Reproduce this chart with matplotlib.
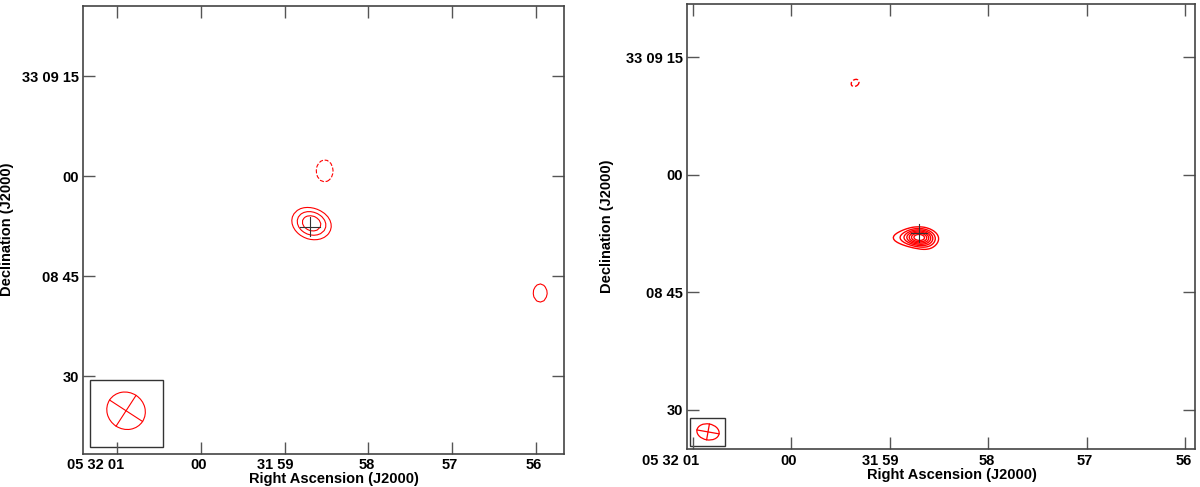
import numpy as np
import matplotlib
matplotlib.use("Agg")
import matplotlib.pyplot as plt
import matplotlib.transforms as mtransforms
from matplotlib.patches import Ellipse, Rectangle

# ---------------------------------------------------
# coordinates: RA in seconds relative to 05 32 00, Dec in arcsec relative to 33 08 00
# ---------------------------------------------------
RA2AS = 15 * np.cos(np.deg2rad(33.15))   # arcsec per second of RA at this dec

ra_ticks = [1, 0, -1, -2, -3, -4]
ra_labels = ["05 32 01", "00", "31 59", "58", "57", "56"]
dec_ticks = [75, 60, 45, 30]
dec_labels = ["33 09 15", "00", "08 45", "30"]

# left map: emission components (ra s, dec ", peak, sigma_a ", sigma_b ", angle deg)
left_ra = [-1.322, -1.478, -4.054]
left_dec = [52.98, 60.82, 42.5]
left_peak = [9.0, -3.5, 3.5]
left_sa = [2.05, 2.29, 1.89]
left_sb = [1.62, 2.97, 2.47]
left_ang = [20, 0, 0]
left_levels = [-3, 3, 5, 7]

# right map components: compact core, extension to the east, bump to the south-west, negative
right_ra = [-1.300, -1.220, -1.380, -0.648]
right_dec = [52.04, 51.94, 51.14, 71.69]
right_peak = [12.0, 5.0, 2.6, -3.3]
right_sa = [1.1, 2.2, 1.0, 1.26]
right_sb = [0.68, 0.8, 0.75, 0.96]
right_ang = [0, 0, 0, -35]
right_levels = [-3, 3, 5, 7, 9, 11, 13, 15]

# position crosses (ra s, dec ", half size x ", half size y ")
left_cross = (-1.302, 52.47, 1.5, 1.45)
right_cross = (-1.297, 52.55, 1.0, 1.1)

# restoring beams (ra s, dec ", major ", minor ", angle deg)
left_beam = (0.896, 24.84, 5.9, 5.5, 33)
right_beam = (0.845, 27.17, 2.86, 2.04, 10)


def gauss(X, Y, ra, dec, peak, sa, sb, ang):
    t = np.deg2rad(ang)
    dx = X - ra * RA2AS
    dy = Y - dec
    u = dx * np.cos(t) + dy * np.sin(t)
    v = -dx * np.sin(t) + dy * np.cos(t)
    return peak * np.exp(-0.5 * (u**2 / sa**2 + v**2 / sb**2))


def make_map(xlim, ylim, step, ras, decs, peaks, sas, sbs, angs):
    x = np.arange(xlim[1], xlim[0], step)
    y = np.arange(ylim[0], ylim[1], step)
    X, Y = np.meshgrid(x, y)
    Z = np.zeros_like(X)
    for r, d, p, a, b, g in zip(ras, decs, peaks, sas, sbs, angs):
        Z += gauss(X, Y, r, d, p, a, b, g)
    return X, Y, Z


def style_axes(ax, xlim, ylim):
    ax.set_xlim(xlim)
    ax.set_ylim(ylim)
    ax.set_xticks([t * RA2AS for t in ra_ticks])
    ax.set_xticklabels(ra_labels)
    ax.set_yticks(dec_ticks)
    ax.set_yticklabels(dec_labels)
    ax.tick_params(direction="in", length=8.5, width=1, color="#555555",
                   top=True, right=True, labelsize=10.5)
    ax.tick_params(axis="x", pad=3.3)
    ax.tick_params(axis="y", pad=3)
    for lab in ax.get_xticklabels() + ax.get_yticklabels():
        lab.set_fontweight("bold")
    # the sexagesimal labels sit a little left of their ticks
    shifts = [-16, -2, -7, -1.5, -1.5, -1.5]
    for lab, dx in zip(ax.get_xticklabels(), shifts):
        lab.set_transform(lab.get_transform() +
                          mtransforms.ScaledTranslation(dx / 72, 0, fig.dpi_scale_trans))
    for s in ax.spines.values():
        s.set_color("#444444")
        s.set_linewidth(1.2)
    ax.set_xlabel("Right Ascension (J2000)", fontsize=10.5, fontweight="bold", labelpad=0)
    ax.xaxis.label.set_x(0.521)
    ax.set_ylabel("Declination (J2000)", fontsize=10.5, fontweight="bold")
    ax.yaxis.set_label_coords(-0.1435, 0.5)


def draw_cross(ax, cross):
    ra, dec, hx, hy = cross
    x0 = ra * RA2AS
    ax.plot([x0 - hx, x0 + hx], [dec, dec], color="#333333", lw=0.8)
    ax.plot([x0, x0], [dec - hy, dec + hy], color="#333333", lw=0.8)


def draw_beam(ax, beam, box, lw):
    ra, dec, bmaj, bmin, ang = beam
    x0 = ra * RA2AS
    ax.add_patch(Rectangle((box[0], box[1]), box[2], box[3], transform=ax.transAxes,
                           fill=False, edgecolor="#333333", lw=1.0))
    ax.add_patch(Ellipse((x0, dec), bmaj, bmin, angle=ang, fill=False,
                         edgecolor="red", lw=lw))
    t = np.deg2rad(ang)
    ax.plot([x0 - bmaj / 2 * np.cos(t), x0 + bmaj / 2 * np.cos(t)],
            [dec - bmaj / 2 * np.sin(t), dec + bmaj / 2 * np.sin(t)], color="red", lw=lw)
    ax.plot([x0 + bmin / 2 * np.sin(t), x0 - bmin / 2 * np.sin(t)],
            [dec - bmin / 2 * np.cos(t), dec + bmin / 2 * np.cos(t)], color="red", lw=lw)


plt.rcParams["font.family"] = ["Liberation Sans", "DejaVu Sans"]
fig = plt.figure(figsize=(12, 4.87), dpi=100)

# ---------------------------------------------------
# left panel
# ---------------------------------------------------
ax1 = fig.add_axes([0.0692, 0.0684, 0.4006, 0.9199])
xl1, yl1 = (17.71, -54.45), (18.4, 85.6)
X, Y, Z = make_map(xl1, yl1, 0.5, left_ra, left_dec, left_peak, left_sa, left_sb, left_ang)
ax1.contour(X, Y, Z, levels=left_levels, colors="red", linewidths=0.8)
draw_cross(ax1, left_cross)
draw_beam(ax1, left_beam, (0.014, 0.015, 0.152, 0.149), 0.8)
style_axes(ax1, xl1, yl1)

# ---------------------------------------------------
# right panel
# ---------------------------------------------------
ax2 = fig.add_axes([0.5725, 0.0774, 0.4236, 0.915])
xl2, yl2 = (13.29, -51.5), (24.95, 81.8)
X, Y, Z = make_map(xl2, yl2, 0.2, right_ra, right_dec, right_peak, right_sa, right_sb, right_ang)
ax2.contour(X, Y, Z, levels=right_levels, colors="red", linewidths=1.0)
draw_cross(ax2, right_cross)
draw_beam(ax2, right_beam, (0.0065, 0.0067, 0.0683, 0.0629), 0.9)
style_axes(ax2, xl2, yl2)

fig.savefig("out.png", dpi=100)
